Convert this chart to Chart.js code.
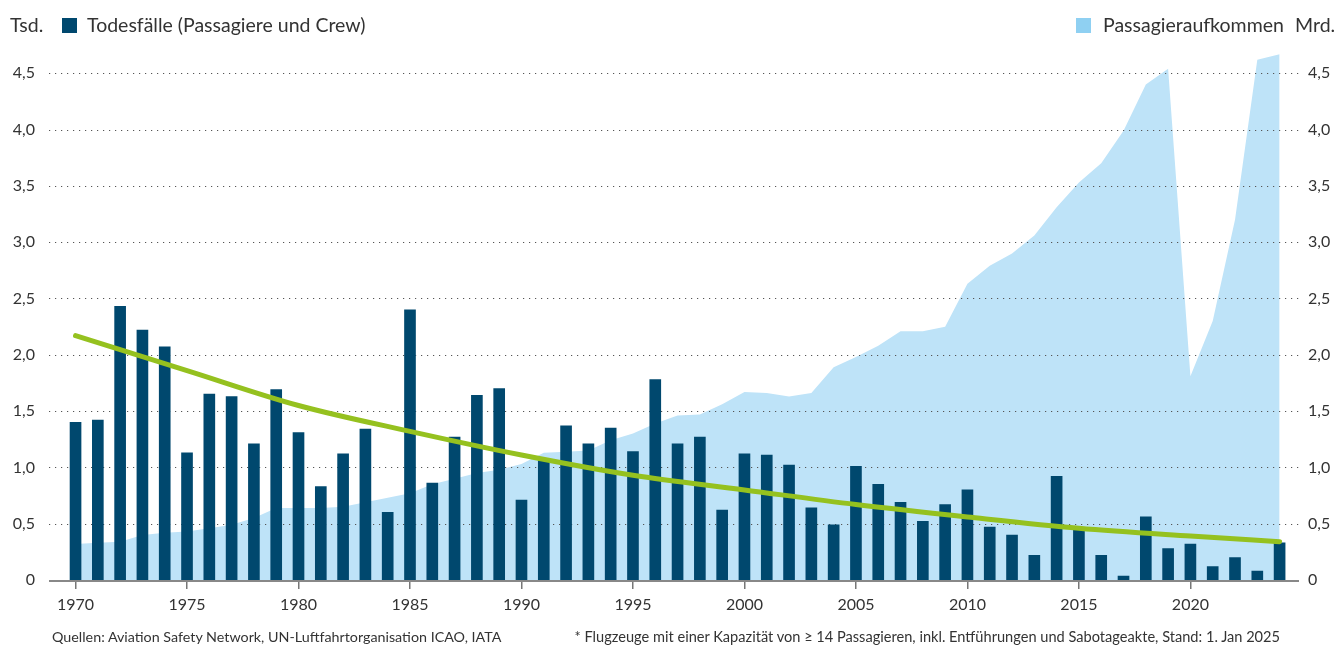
<!DOCTYPE html>
<html><head><meta charset="utf-8">
<script src="https://cdn.jsdelivr.net/npm/chart.js@4.4.1/dist/chart.umd.min.js"></script>
<style>
html,body{margin:0;padding:0;background:#fff;}
#wrap{position:relative;width:1341px;height:649px;overflow:hidden;font-family:Lato,sans-serif;color:#333;}
canvas{position:absolute;left:0;top:0;}
.t{position:absolute;white-space:nowrap;line-height:1;}
.sq{position:absolute;width:15px;height:15px;}
</style></head>
<body><div id="wrap">
<canvas id="c" width="1341" height="649"></canvas>
<div class="t" style="left:10px;top:15px;font-size:19.5px">Tsd.</div>
<div class="sq" style="left:62px;top:18px;background:#00486e"></div>
<div class="t" style="left:87px;top:15px;font-size:19.5px">Todesfälle (Passagiere und Crew)</div>
<div class="sq" style="left:1076px;top:18px;background:#8fd0f2"></div>
<div class="t" style="left:1103px;top:15px;font-size:19.5px">Passagieraufkommen</div>
<div class="t" style="left:1295px;top:15px;font-size:19.5px">Mrd.</div>
<div class="t" style="left:52px;top:630px;font-size:14.3px">Quellen: Aviation Safety Network, UN-Luftfahrtorganisation ICAO, IATA</div>
<div class="t" style="right:61px;top:630px;font-size:14.6px">* Flugzeuge mit einer Kapazität von ≥ 14 Passagieren, inkl. Entführungen und Sabotageakte, Stand: 1. Jan 2025</div>
</div>
<script>
const years = [1970,1971,1972,1973,1974,1975,1976,1977,1978,1979,1980,1981,1982,1983,1984,1985,1986,1987,1988,1989,1990,1991,1992,1993,1994,1995,1996,1997,1998,1999,2000,2001,2002,2003,2004,2005,2006,2007,2008,2009,2010,2011,2012,2013,2014,2015,2016,2017,2018,2019,2020,2021,2022,2023,2024];
const deaths = [1.40,1.42,2.43,2.22,2.07,1.13,1.65,1.63,1.21,1.69,1.31,0.83,1.12,1.34,0.60,2.40,0.86,1.27,1.64,1.70,0.71,1.06,1.37,1.21,1.35,1.14,1.78,1.21,1.27,0.62,1.12,1.11,1.02,0.64,0.49,1.01,0.85,0.69,0.52,0.67,0.80,0.47,0.40,0.22,0.92,0.44,0.22,0.035,0.56,0.28,0.32,0.12,0.20,0.08,0.33];
const passengers = [0.32,0.33,0.34,0.40,0.42,0.43,0.46,0.49,0.55,0.64,0.64,0.64,0.65,0.69,0.73,0.77,0.85,0.90,0.95,0.98,1.03,1.13,1.14,1.15,1.24,1.30,1.39,1.46,1.47,1.56,1.67,1.66,1.63,1.66,1.89,1.98,2.08,2.21,2.21,2.25,2.63,2.79,2.90,3.06,3.31,3.53,3.70,3.99,4.40,4.54,1.81,2.30,3.20,4.62,4.67];
const trendYears = [1970,1975,1980,1985,1990,1995,2000,2005,2010,2015,2020,2024];
const trendValues = [2.17,1.86,1.55,1.32,1.11,0.93,0.80,0.67,0.56,0.46,0.39,0.34];
const xTickLabels = [1970,1975,1980,1985,1990,1995,2000,2005,2010,2015,2020];
const yTickValues = [0,0.5,1,1.5,2,2.5,3,3.5,4,4.5];

const FONT = 'Lato';
const TXT = '#333';

const gridPlugin = {
  id: 'dotGrid',
  afterDatasetDraw(chart, args) {
    if (args.index !== 2) return;
    const {ctx, chartArea: a, scales: {y}} = chart;
    ctx.save();
    ctx.strokeStyle = '#555'; ctx.lineWidth = 1.2; ctx.setLineDash([1.2, 4.8]);
    yTickValues.forEach(v => {
      if (v === 0) return;
      const py = Math.round(y.getPixelForValue(v)) + 0.5;
      ctx.beginPath(); ctx.moveTo(a.left, py); ctx.lineTo(a.right, py); ctx.stroke();
    });
    ctx.restore();
  },
  afterDatasetsDraw(chart) {
    const {ctx, chartArea: a, scales: {y}} = chart;
    const py = y.getPixelForValue(0);
    ctx.save();
    ctx.strokeStyle = '#888'; ctx.lineWidth = 2;
    ctx.beginPath(); ctx.moveTo(a.left, py + 1); ctx.lineTo(a.right, py + 1); ctx.stroke();
    ctx.restore();
  }
};

const yTicksFilter = (scale) => { scale.ticks = yTickValues.map(v => ({value: v})); };
const yLabel = v => v === 0 ? '0' : v.toFixed(1).replace('.', ',');

new Chart(document.getElementById('c'), {
  data: {
    datasets: [
      {type: 'line', label: 'Trend', data: trendYears.map((x, i) => ({x, y: trendValues[i]})),
       borderColor: '#95c11f', borderWidth: 5, pointRadius: 0, cubicInterpolationMode: 'monotone',
       borderCapStyle: 'round', fill: false, order: 1, yAxisID: 'y'},
      {type: 'bar', label: 'Todesfälle (Passagiere und Crew)', data: years.map((x, i) => ({x, y: deaths[i]})),
       backgroundColor: '#00486e', barThickness: 11, order: 2, yAxisID: 'y'},
      {type: 'line', label: 'Passagieraufkommen', data: years.map((x, i) => ({x, y: passengers[i]})),
       backgroundColor: '#bee3f8', borderWidth: 0, pointRadius: 0, fill: 'origin', tension: 0, order: 3, yAxisID: 'y2'}
    ]
  },
  options: {
    responsive: false, animation: false, devicePixelRatio: 1,
    layout: {padding: {top: 39.5, left: 0, right: 0, bottom: 0}},
    plugins: {legend: {display: false}, tooltip: {enabled: false}},
    scales: {
      x: {type: 'linear', min: 1968.81, max: 2024.87, offset: false,
          afterBuildTicks: s => { s.ticks = xTickLabels.map(v => ({value: v})); },
          afterFit: s => { s.height = 69; },
          grid: {offset: false, drawOnChartArea: false, drawTicks: true, tickLength: 9, color: '#777', lineWidth: 1.5},
          border: {display: false},
          ticks: {font: {family: FONT, size: 16}, color: TXT, padding: 6, maxRotation: 0, autoSkip: false, callback: v => String(v)}},
      y: {position: 'left', min: 0, max: 4.8,
          afterBuildTicks: yTicksFilter, afterFit: s => { s.width = 49; },
          grid: {display: false, drawTicks: false}, border: {display: false},
          ticks: {font: {family: FONT, size: 16}, color: TXT, padding: 14, callback: yLabel}},
      y2: {position: 'right', min: 0, max: 4.8,
          afterBuildTicks: yTicksFilter, afterFit: s => { s.width = 42; },
          grid: {display: false, drawTicks: false}, border: {display: false},
          ticks: {font: {family: FONT, size: 16}, color: TXT, padding: 9, callback: yLabel}}
    }
  },
  plugins: [gridPlugin]
});
</script>
</body></html>
